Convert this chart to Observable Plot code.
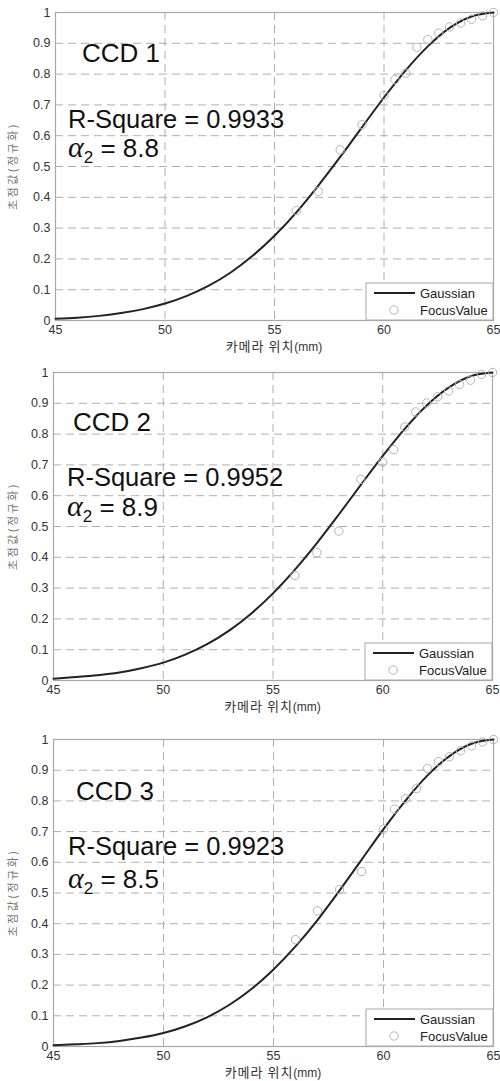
<!DOCTYPE html>
<html><head><meta charset="utf-8">
<script src="https://cdn.jsdelivr.net/npm/d3@7"></script>
<script src="https://cdn.jsdelivr.net/npm/@observablehq/plot@0.6"></script>
<style>
html,body{margin:0;padding:0;background:#fff;}
#wrap{position:relative;width:500px;height:1081px;overflow:hidden;}
#wrap svg{position:absolute;left:0;}
</style></head>
<body><div id="wrap"></div>
<script>
// ---- data ----
const xTicks = [45, 50, 55, 60, 65];
const yTicks = [0, 0.1, 0.2, 0.3, 0.4, 0.5, 0.6, 0.7, 0.8, 0.9, 1];
const xGrid = [50, 55, 60];
const yGrid = [0.1, 0.2, 0.3, 0.4, 0.5, 0.6, 0.7, 0.8, 0.9];

const curveX = [45,46,47,48,49,50,51,52,53,54,55,56,57,58,59,60,61,62,63,64,65];
const gauss1 = [0.006,0.009,0.015,0.024,0.037,0.055,0.080,0.113,0.156,0.210,0.275,0.351,0.438,0.531,0.628,0.724,0.813,0.890,0.950,0.987,1.0];
const gauss2 = [0.006,0.011,0.017,0.026,0.040,0.058,0.084,0.118,0.162,0.217,0.283,0.360,0.446,0.539,0.635,0.729,0.817,0.893,0.951,0.988,1.0];
const gauss3 = [0.004,0.007,0.011,0.018,0.029,0.044,0.066,0.096,0.136,0.187,0.251,0.326,0.412,0.508,0.608,0.708,0.801,0.883,0.946,0.986,1.0];

const focusX = [56,57,58,59,60,60.5,61,61.5,62,62.5,63,63.5,64,64.5,65];
const focus1 = [0.357,0.419,0.554,0.636,0.731,0.782,0.803,0.887,0.912,0.933,0.953,0.966,0.978,0.989,1.0];
const focus2 = [0.341,0.415,0.485,0.653,0.709,0.750,0.823,0.872,0.901,0.921,0.940,0.961,0.975,0.994,1.0];
const focus3 = [0.348,0.442,0.511,0.570,0.708,0.773,0.807,0.840,0.906,0.928,0.944,0.963,0.979,0.992,1.0];

const ccdLabels = ["CCD 1", "CCD 2", "CCD 3"];
const rSquare = ["0.9933", "0.9952", "0.9923"];
const alpha2 = ["8.8", "8.9", "8.5"];
const xLabel = "카메라 위치";
const xUnit = "(mm)";
const yLabel = "초점값(정규화)";
const legendLabels = ["Gaussian", "FocusValue"];

// ---- layout per panel ----
const panels = [
  {top: 0,   height: 356, mL: 55, mR: 7, mB: 36, gauss: gauss1, focus: focus1,
   ccd: [27, 50], rs: [13, 116], al: [13, 145], xl: 31},
  {top: 360, height: 356, mL: 53, mR: 8, mB: 36, gauss: gauss2, focus: focus2,
   ccd: [20, 59], rs: [14, 114], al: [14, 144], xl: 31},
  {top: 727, height: 354, mL: 53, mR: 7, mB: 35, gauss: gauss3, focus: focus3,
   ccd: [23, 61], rs: [15, 116], al: [15, 149], xl: 31}
];
const mT = 12;
const wrap = document.getElementById("wrap");

panels.forEach((p, i) => {
  const curve = curveX.map((x, k) => ({x, y: p.gauss[k]}));
  const pts = focusX.map((x, k) => ({x, y: p.focus[k]}));
  const svg = Plot.plot({
    width: 500, height: p.height,
    marginLeft: p.mL, marginRight: p.mR, marginTop: mT, marginBottom: p.mB,
    style: {fontFamily: "'Liberation Sans', Arial, sans-serif", fontSize: "12.5px", color: "#333", background: "#fff"},
    x: {domain: [45, 65], ticks: xTicks, tickSize: 0, tickPadding: 5, label: null, tickFormat: d => String(d)},
    y: {domain: [0, 1], ticks: yTicks, tickSize: 0, tickPadding: 5, label: null, tickFormat: d => String(d)},
    marks: [
      Plot.gridX(xGrid, {stroke: "#b0b0b0", strokeOpacity: 1, strokeDasharray: "8,5", strokeWidth: 1}),
      Plot.gridY(yGrid, {stroke: "#b0b0b0", strokeOpacity: 1, strokeDasharray: "8,5", strokeWidth: 1}),
      Plot.frame({stroke: "#a8a8a8", strokeWidth: 1.2}),
      Plot.line(curve, {x: "x", y: "y", stroke: "#222", strokeWidth: 2, curve: "monotone-x"}),
      Plot.dot(pts, {x: "x", y: "y", r: 4.2, stroke: "#b5b5b5", fill: "none", strokeWidth: 1})
    ]
  });
  svg.style.top = p.top + "px";
  wrap.appendChild(svg);

  const s = d3.select(svg);
  const L = p.mL, R = 500 - p.mR, T = mT, B = p.height - p.mB;

  // annotations
  s.append("text").attr("x", L + p.ccd[0]).attr("y", T + p.ccd[1]).attr("text-anchor", "start")
    .attr("font-family", "'Liberation Sans', Arial, sans-serif").attr("font-size", 26).attr("fill", "#111")
    .text(ccdLabels[i]);
  s.append("text").attr("x", L + p.rs[0]).attr("y", T + p.rs[1]).attr("text-anchor", "start")
    .attr("font-family", "'Liberation Sans', Arial, sans-serif").attr("font-size", 25.5).attr("fill", "#111")
    .text("R-Square = " + rSquare[i]);
  const at = s.append("text").attr("x", L + p.al[0]).attr("y", T + p.al[1]).attr("text-anchor", "start")
    .attr("font-family", "'Liberation Sans', Arial, sans-serif").attr("font-size", 26).attr("fill", "#111");
  at.append("tspan").attr("font-family", "'Liberation Serif', 'DejaVu Serif', serif").attr("font-style", "italic").attr("font-size", 30).text("α");
  at.append("tspan").attr("font-size", 17).attr("dy", 6).text("2");
  at.append("tspan").attr("dy", -6).text(" = " + alpha2[i]);

  // axis labels
  const xt = s.append("text").attr("x", (L + R) / 2).attr("y", B + p.xl)
    .attr("text-anchor", "middle").attr("fill", "#333")
    .attr("font-family", "'Noto Sans CJK KR', sans-serif").attr("font-size", 13).attr("letter-spacing", 1);
  xt.append("tspan").text(xLabel);
  xt.append("tspan").attr("font-family", "'Liberation Sans', Arial, sans-serif").attr("font-size", 12).attr("letter-spacing", 0).text(xUnit);
  s.append("text").attr("transform", `translate(14,${(T + B) / 2}) rotate(-90)`)
    .attr("text-anchor", "middle").attr("dominant-baseline", "middle").attr("fill", "#777")
    .attr("font-family", "'Noto Sans CJK KR', sans-serif").attr("font-size", 11).attr("letter-spacing", 2.5)
    .text(yLabel);

  // legend
  const lw = 128, lh = 37, lx = R - lw + 1, ly = B - lh;
  const g = s.append("g");
  g.append("rect").attr("x", lx).attr("y", ly).attr("width", lw - 1).attr("height", lh)
    .attr("fill", "#fff").attr("stroke", "#a8a8a8").attr("stroke-width", 1);
  g.append("line").attr("x1", lx + 8).attr("x2", lx + 49).attr("y1", ly + 10).attr("y2", ly + 10)
    .attr("stroke", "#222").attr("stroke-width", 2);
  g.append("circle").attr("cx", lx + 28).attr("cy", ly + 27).attr("r", 4.2)
    .attr("fill", "none").attr("stroke", "#b5b5b5");
  legendLabels.forEach((t, k) => {
    g.append("text").attr("x", lx + 54).attr("y", ly + 10 + k * 17).attr("dy", "0.35em").attr("text-anchor", "start")
      .attr("font-family", "'Liberation Sans', Arial, sans-serif").attr("font-size", 13).attr("fill", "#222")
      .text(t);
  });
});
</script></body></html>
